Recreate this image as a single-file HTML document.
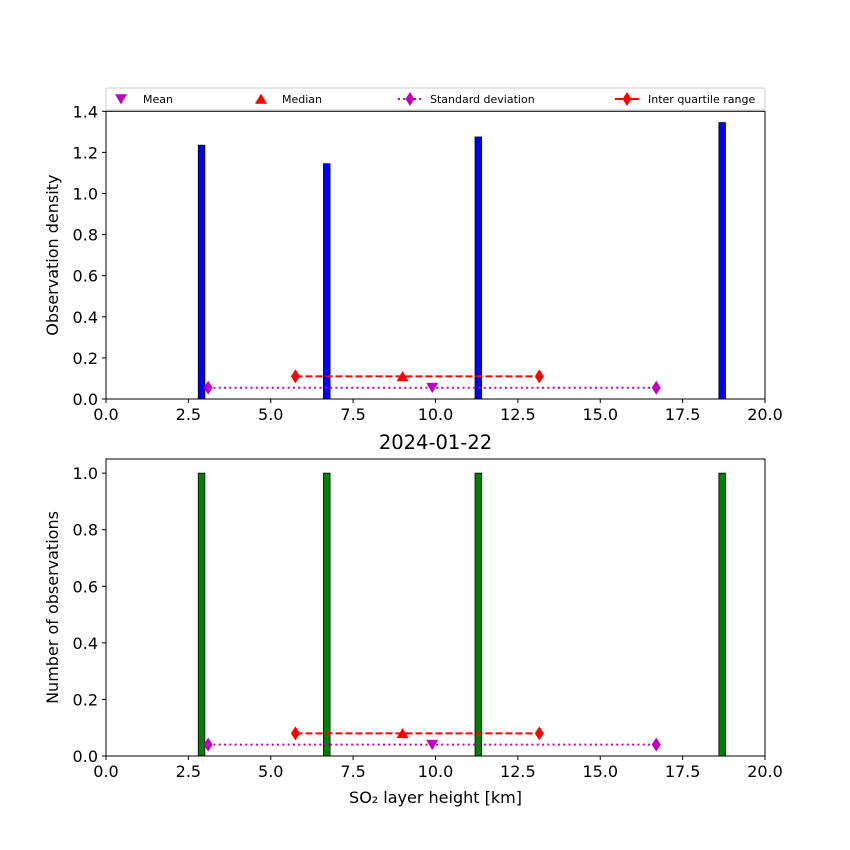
<!DOCTYPE html>
<html><head><meta charset="utf-8"><style>body{margin:0;background:#fff}svg{display:block;font-family:"DejaVu Sans","Liberation Sans",sans-serif}</style></head>
<body>
<svg id="c" width="850" height="850" viewBox="0 0 850 850"></svg>
<script>
const binCenters=[2.9,6.7,11.3,18.7];
const densityValues=[1.235,1.145,1.275,1.345];
const countValues=[1,1,1,1];
const binWidth=0.2;
const meanVal=9.9, medianVal=9.0, stdLow=3.1, stdHigh=16.7, iqrLow=5.75, iqrHigh=13.15;
const topStatY=[0.055,0.11], botStatY=[0.04,0.08];
const xTicks=[0,2.5,5,7.5,10,12.5,15,17.5,20];
const topYTicks=[0,0.2,0.4,0.6,0.8,1.0,1.2,1.4];
const botYTicks=[0,0.2,0.4,0.6,0.8,1.0];
const svg=document.getElementById('c');
const NS='http://www.w3.org/2000/svg';
function mk(t,a,txt){const e=document.createElementNS(NS,t);for(const k in a)e.setAttribute(k,a[k]);if(txt!=null)e.textContent=txt;svg.appendChild(e);return e;}
const X0=106,X1=765;
const xs=v=>X0+(X1-X0)*v/20;
function tri(cx,cy,down){const s=6;return down?`${cx-s},${cy-s*0.8} ${cx+s},${cy-s*0.8} ${cx},${cy+s*0.9}`:`${cx-s},${cy+s*0.8} ${cx+s},${cy+s*0.8} ${cx},${cy-s*0.9}`;}
function diamond(cx,cy){return `${cx-4.5},${cy} ${cx},${cy-7} ${cx+4.5},${cy} ${cx},${cy+7}`;}
function panel(yTop,yBot,ymax,vals,color,ticks,stY,ylabel,pfx){
  const ys=v=>yBot-(yBot-yTop)*v/ymax;
  vals.forEach((v,i)=>{const r=mk('rect',{x:xs(binCenters[i]-binWidth/2),y:ys(v),width:xs(binWidth)-X0,height:yBot-ys(v),fill:color,stroke:'#000','stroke-width':0.8});
    
    });
  let l=mk('line',{x1:xs(stdLow),x2:xs(stdHigh),y1:ys(stY[0]),y2:ys(stY[0]),stroke:'#bf00bf','stroke-width':2,'stroke-dasharray':'2,3.3'});
  
  [stdLow,stdHigh].forEach(v=>{const p=mk('polygon',{points:diamond(xs(v),ys(stY[0])),fill:'#bf00bf'});});
  l=mk('line',{x1:xs(iqrLow),x2:xs(iqrHigh),y1:ys(stY[1]),y2:ys(stY[1]),stroke:'#f00','stroke-width':2,'stroke-dasharray':'7,3'});
  
  [iqrLow,iqrHigh].forEach(v=>{const p=mk('polygon',{points:diamond(xs(v),ys(stY[1])),fill:'#f00'});});
  let p=mk('polygon',{points:tri(xs(meanVal),ys(stY[0]),true),fill:'#bf00bf'});
  p=mk('polygon',{points:tri(xs(medianVal),ys(stY[1]),false),fill:'#f00'});
  const f=mk('rect',{x:X0,y:yTop,width:X1-X0,height:yBot-yTop,fill:'none',stroke:'#000','stroke-width':1});
  
  xTicks.forEach(t=>{mk('line',{x1:xs(t),x2:xs(t),y1:yBot,y2:yBot+4,stroke:'#000'});
    const e=mk('text',{x:xs(t),y:yBot+21,'text-anchor':'middle','font-size':16},t.toFixed(1));
    });
  ticks.forEach(t=>{mk('line',{x1:X0-4,x2:X0,y1:ys(t),y2:ys(t),stroke:'#000'});
    const e=mk('text',{x:X0-8,y:ys(t)+6,'text-anchor':'end','font-size':16},t.toFixed(1));
    });
  const yl=mk('text',{x:0,y:0,transform:`translate(58,${(yTop+yBot)/2}) rotate(-90)`,'text-anchor':'middle','font-size':16},ylabel);
  
}
panel(111.3,399,1.4,densityValues,'#0000ff',topYTicks,topStatY,'Observation density','top');
panel(459,756,1.05,countValues,'#008000',botYTicks,botStatY,'Number of observations','bottom');
let t=mk('text',{x:435.5,y:449,'text-anchor':'middle','font-size':19.5},'2024-01-22');

t=mk('text',{x:435.5,y:803,'text-anchor':'middle','font-size':16},'SO₂ layer height [km]');

const lg=mk('rect',{x:106,y:88,width:659,height:22,fill:'#fff',stroke:'#ccc','stroke-width':1,rx:2});

const legendLabels=['Mean','Median','Standard deviation','Inter quartile range'];
const lx=[121,261,410,627];
let m=mk('polygon',{points:tri(lx[0],99,true),fill:'#bf00bf'});
m=mk('polygon',{points:tri(lx[1],99,false),fill:'#f00'});
mk('line',{x1:398,x2:422,y1:99,y2:99,stroke:'#bf00bf','stroke-width':2,'stroke-dasharray':'2,3.3'});
m=mk('polygon',{points:diamond(lx[2],99),fill:'#bf00bf'});
mk('line',{x1:615,x2:639,y1:99,y2:99,stroke:'#f00','stroke-width':2});
m=mk('polygon',{points:diamond(lx[3],99),fill:'#f00'});
const ltx=[143,282,430,648];
legendLabels.forEach((s,i)=>{const e=mk('text',{x:ltx[i],y:103,'font-size':11},s);
  });
</script>
</body></html>
